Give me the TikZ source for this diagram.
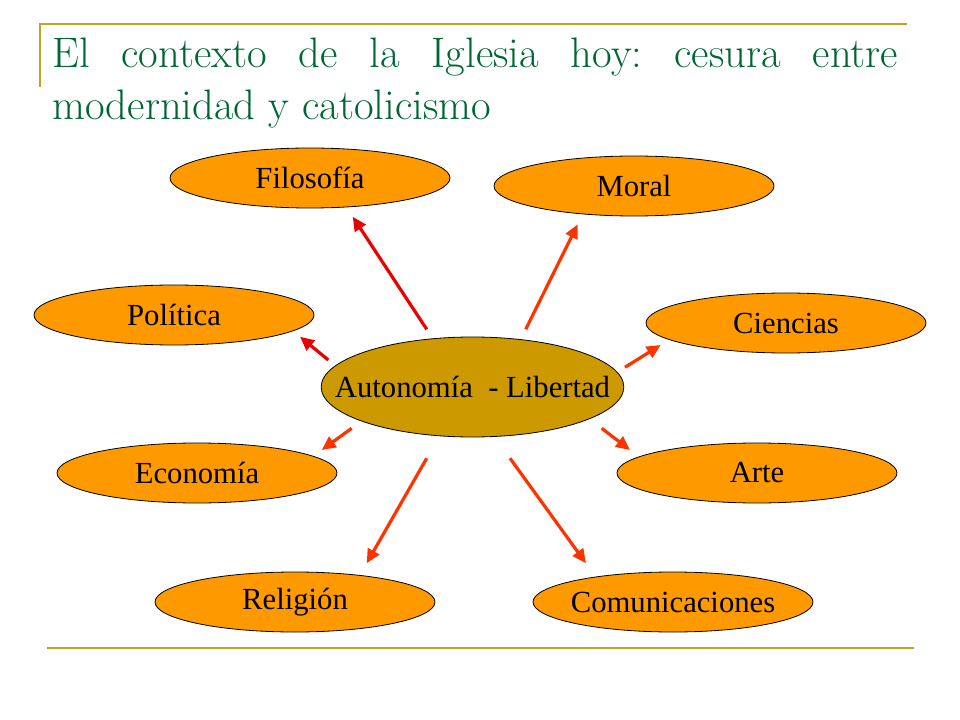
\documentclass[tikz,border=0pt]{standalone}
\usepackage{fontspec}
\newfontfamily\labelfont{Liberation Serif}
\usetikzlibrary{shapes.geometric,arrows.meta}

\definecolor{titlegreen}{RGB}{0,102,51}
\definecolor{rulegold}{RGB}{204,160,30}
\definecolor{topicorange}{RGB}{255,153,0}
\definecolor{hubgold}{RGB}{204,153,0}
\definecolor{arrowred}{RGB}{235,0,0}
\definecolor{arroworange}{RGB}{255,51,0}

\tikzset{
  topic/.style={ellipse, draw=black, line width=0.6pt, fill=topicorange,
    minimum width=210pt, minimum height=45pt, inner xsep=-30pt, inner ysep=0pt,
    font=\labelfont\fontsize{23}{26}\selectfont},
  hub/.style={topic, fill=hubgold, minimum width=227pt, minimum height=75pt},
  spoke/.style={line width=2.4pt, -{Triangle[length=10.5pt,width=9.5pt]}},
  rule/.style={rulegold, line width=1.6pt},
  heading/.style={anchor=base west, inner sep=0pt, text=titlegreen,
    font=\fontsize{32}{38}\selectfont}
}

\begin{document}
\frenchspacing
\begin{tikzpicture}[x=0.75pt,y=-0.75pt]
\useasboundingbox (0,0) rectangle (960,720);

%Rules and title
\draw[rule] (40,87) -- (40,24) -- (907,24);
\draw[rule] (47,648) -- (914,648);
\node[heading] (head1) at (52,68) {\makebox[634.5pt][s]{El contexto de la Iglesia hoy: cesura entre}};
\node[heading] (head2) at (52,120) {modernidad y catolicismo};

%Ellipses
\node[hub] (aut) at (472.5,387) {Autonom\'ia\ \ - Libertad};
\node[topic] (fil) at (310,178) {Filosof\'ia};
\node[topic] (mor) at (634,186) {Moral};
\node[topic] (pol) at (174,315) {Pol\'itica};
\node[topic] (cie) at (786,323) {Ciencias};
\node[topic] (eco) at (197,473) {Econom\'ia};
\node[topic] (art) at (757,473) {Arte};
\node[topic] (rel) at (295,602) {Religi\'on};
\node[topic] (com) at (673,602) {Comunicaciones};

%Arrow ends
\coordinate (filT) at (426.7,329.3);
\coordinate (filH) at (352.7,216.7);
\coordinate (morT) at (525.7,329.3);
\coordinate (morH) at (577.7,224.3);
\coordinate (polT) at (328.3,360);
\coordinate (polH) at (300,336.7);
\coordinate (cieT) at (625,367.3);
\coordinate (cieH) at (660.7,345);
\coordinate (ecoT) at (351.7,428.3);
\coordinate (ecoH) at (321.7,450);
\coordinate (artT) at (601.7,428.3);
\coordinate (artH) at (630,450);
\coordinate (relT) at (426.7,458.3);
\coordinate (relH) at (366.7,563.3);
\coordinate (comT) at (510,458.3);
\coordinate (comH) at (586,563.3);

%Arrows
\draw[spoke,arrowred] (filT) -- (filH);
\draw[spoke,arroworange] (morT) -- (morH);
\draw[spoke,arrowred] (polT) -- (polH);
\draw[spoke,arroworange] (cieT) -- (cieH);
\draw[spoke,arroworange] (ecoT) -- (ecoH);
\draw[spoke,arroworange] (artT) -- (artH);
\draw[spoke,arroworange] (relT) -- (relH);
\draw[spoke,arroworange] (comT) -- (comH);

\end{tikzpicture}
\end{document}
